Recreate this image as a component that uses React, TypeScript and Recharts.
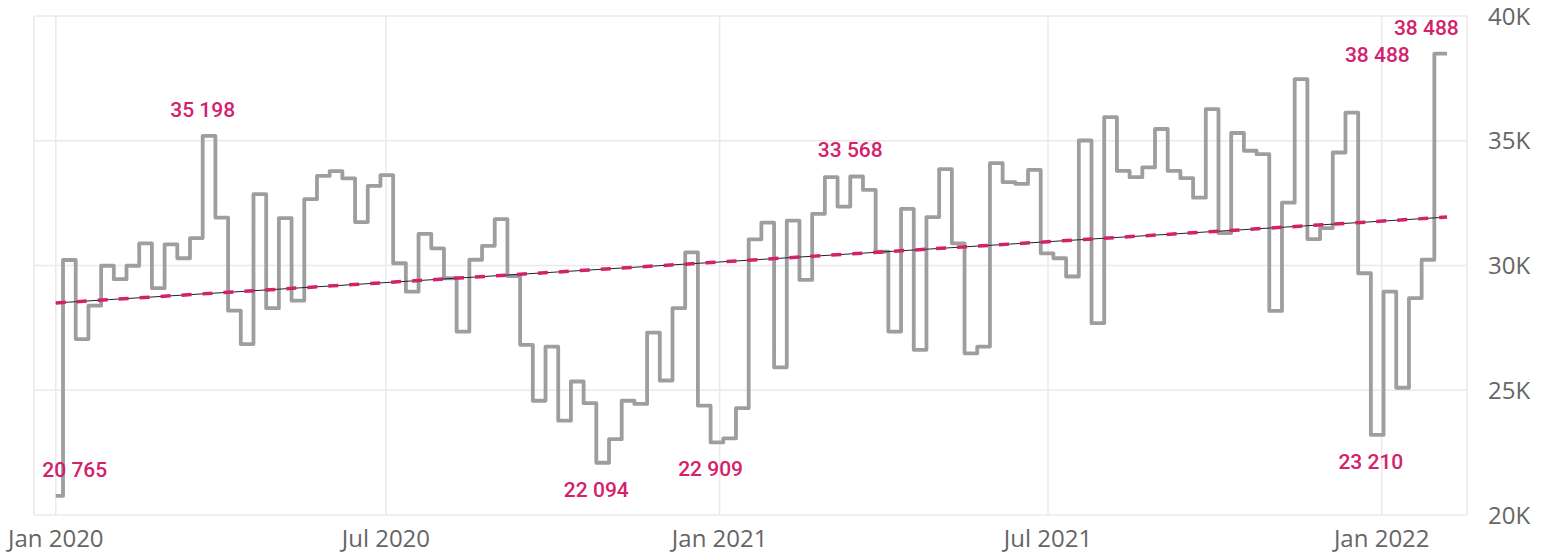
import React from "react";
import { LineChart, Line, XAxis, YAxis, CartesianGrid, LabelList } from "recharts";

// first point is the partial week of Jan 1, then weekly (Sundays) from Jan 5 2020
const firstDay = "2020-01-01";
const firstWeek = "2020-01-05";
const lastWeekEnd = "2022-02-06";

const weeklyValues = [
  20765,
  30220, 27050, 28390, 29990, 29450, 29990, 30890, 29090, 30850, 30290,
  31100, 35198, 31920, 28190, 26850, 32860, 28290, 31900, 28590, 32660,
  33590, 33780, 33490, 31740, 33190, 33620, 30090, 28950, 31270, 30690,
  29490, 27350, 30230, 30790, 31860, 29580, 26820, 24580, 26750, 23780,
  25350, 24480, 22094, 23040, 24580, 24450, 27310, 25390, 28290, 30530,
  24380, 22909, 23070, 24280, 31050, 31720, 25920, 31800, 29420, 32070,
  33540, 32360, 33568, 33030, 30560, 27350, 32270, 26620, 31940, 33860,
  30890, 26480, 26750, 34100, 33340, 33270, 33830, 30490, 30290, 29560,
  35010, 27690, 35950, 33790, 33540, 33930, 35470, 33790, 33500, 32720,
  36270, 31300, 35310, 34600, 34460, 28180, 32520, 37470, 31060, 31500,
  34530, 36130, 29690, 23210, 28950, 25100, 28690, 30230, 38488,
];

const trendDates = ["2020-01-01", "2022-02-06"];
const trendValues = [28500, 31940];

const xTicks = ["2020-01-01", "2020-07-01", "2021-01-01", "2021-07-01", "2022-01-01"];
const yTicks = [20000, 25000, 30000, 35000, 40000];
const xDomain = ["2019-12-20", "2022-02-17"];

const DAY = 86400000;
const ts = (s: string) => Date.parse(s + "T00:00:00Z");
const MONTHS = ["Jan", "Feb", "Mar", "Apr", "May", "Jun", "Jul", "Aug", "Sep", "Oct", "Nov", "Dec"];

const series = weeklyValues.map((v, i) => ({
  t: i === 0 ? ts(firstDay) : ts(firstWeek) + (i - 1) * 7 * DAY,
  v,
}));
// close the last step at the end of its week
series.push({ t: ts(lastWeekEnd), v: weeklyValues[weeklyValues.length - 1] });

const trend = trendDates.map((d, i) => ({ t: ts(d), v: trendValues[i] }));

const PINK = "#D3216B";

// which points carry a data label, and where it sits
const LABELS: Record<number, { dx: number; dy: number }[]> = {
  0: [{ dx: 19, dy: -26 }],
  12: [{ dx: 0, dy: -26 }],
  43: [{ dx: 0, dy: 27 }],
  52: [{ dx: 0, dy: 27 }],
  63: [{ dx: 0, dy: -26 }],
  104: [{ dx: 0, dy: 27 }],
  109: [
    { dx: -8, dy: -26 },
    { dx: -57, dy: 1 },
  ],
};

const fmt = (n: number) => String(n).replace(/\B(?=(\d{3})+(?!\d))/g, " ");

const renderLabel = (props: any) => {
  const { x, y, value, index } = props;
  const spots = LABELS[index];
  if (!spots) return null;
  return (
    <g key={`lbl-${index}`}>
      {spots.map((s, j) => (
        <text
          key={j}
          x={x + s.dx}
          y={y + s.dy}
          textAnchor="middle"
          dominantBaseline="central"
          fill={PINK}
          fontFamily="Roboto"
          fontWeight={500}
          fontSize={21}
        >
          {fmt(value)}
        </text>
      ))}
    </g>
  );
};

const axisTick = { fill: "#666", fontSize: 24, fontFamily: "Open Sans" };

export default function App() {
  return (
    <div style={{ position: "fixed", left: 0, top: 0, background: "#fff" }}>
      <LineChart width={1548} height={556} margin={{ top: 16, right: 0, bottom: 0, left: 34 }}>
        <CartesianGrid stroke="#EAEAEA" strokeWidth={1.5} />
        <XAxis
          type="number"
          dataKey="t"
          domain={[ts(xDomain[0]), ts(xDomain[1])]}
          allowDataOverflow
          ticks={xTicks.map(ts)}
          interval={0}
          tickFormatter={(t: number) => {
            const d = new Date(t);
            return `${MONTHS[d.getUTCMonth()]} ${d.getUTCFullYear()}`;
          }}
          axisLine={false}
          tickLine={false}
          tickMargin={9}
          height={41}
          tick={axisTick}
        />
        <YAxis
          orientation="right"
          type="number"
          domain={[20000, 40000]}
          ticks={yTicks}
          interval={0}
          tickFormatter={(v: number) => `${v / 1000}K`}
          axisLine={false}
          tickLine={false}
          tickMargin={15}
          width={81}
          tick={axisTick}
        />
        <Line
          data={series}
          dataKey="v"
          type="stepAfter"
          stroke="#9E9E9E"
          strokeWidth={3.8}
          strokeLinejoin="round"
          dot={false}
          isAnimationActive={false}
        >
          <LabelList dataKey="v" content={renderLabel} />
        </Line>
        <Line
          data={trend}
          dataKey="v"
          type="linear"
          stroke="#222"
          strokeWidth={1}
          dot={false}
          isAnimationActive={false}
        />
        <Line
          data={trend}
          dataKey="v"
          type="linear"
          stroke={PINK}
          strokeWidth={3.5}
          strokeDasharray="10 11"
          dot={false}
          isAnimationActive={false}
        />
      </LineChart>
    </div>
  );
}
